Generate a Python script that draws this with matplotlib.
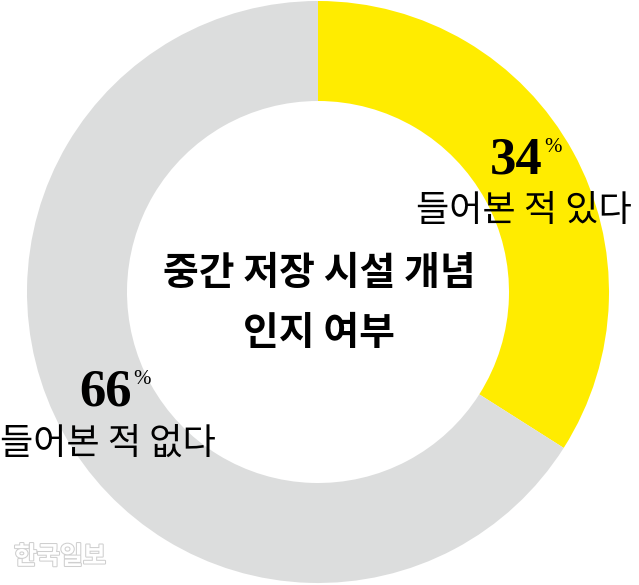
import matplotlib.pyplot as plt
import matplotlib.patheffects as pe

# 데이터
labels = ['들어본 적 있다', '들어본 적 없다']
values = [34, 66]
colors = ['#FFEC00', '#DCDDDD']
title_lines = ['중간 저장 시설 개념', '인지 여부']

W, H = 639, 585
fig = plt.figure(figsize=(W / 100, H / 100), dpi=100)
ax = fig.add_axes([0, 0, 1, 1])

# 도넛 (픽셀 좌표, y는 아래에서 위로)
cx, cy, R = 318, H - 292, 291
ax.pie(values, colors=colors, startangle=90, counterclock=False,
       center=(cx, cy), radius=R, wedgeprops=dict(width=100, linewidth=0))
ax.set_xlim(0, W)
ax.set_ylim(0, H)
ax.set_aspect('equal')
ax.axis('off')

kr = ['Noto Sans CJK KR', 'DejaVu Sans']
num = 'Liberation Serif'

def y(p):
    return H - p

# 퍼센트 숫자
ax.text(543, y(173), f'{values[0]}', ha='right', va='baseline',
        fontsize=38, family=num, fontweight='bold', color='black')
ax.text(544, y(138), '%', ha='left', va='top', fontsize=15, family=num)
ax.text(524, y(211), labels[0], ha='center', va='center',
        fontsize=26, family=kr, color='black')

ax.text(132, y(405), f'{values[1]}', ha='right', va='baseline',
        fontsize=38, family=num, fontweight='bold', color='black')
ax.text(133, y(370), '%', ha='left', va='top', fontsize=15, family=num)
ax.text(108, y(444), labels[1], ha='center', va='center',
        fontsize=26, family=kr, color='black')

# 가운데 제목
ax.text(319, y(274), title_lines[0], ha='center', va='center',
        fontsize=28, family=kr, fontweight='heavy')
ax.text(319, y(334), title_lines[1], ha='center', va='center',
        fontsize=28, family=kr, fontweight='heavy')

# 워터마크
ax.text(60, y(557), '한국일보', ha='center', va='center', fontsize=18,
        family=kr, fontweight='bold', color='white',
        path_effects=[pe.withStroke(linewidth=1.5, foreground='#cfcfcf')])

plt.savefig('out.png', dpi=100)
